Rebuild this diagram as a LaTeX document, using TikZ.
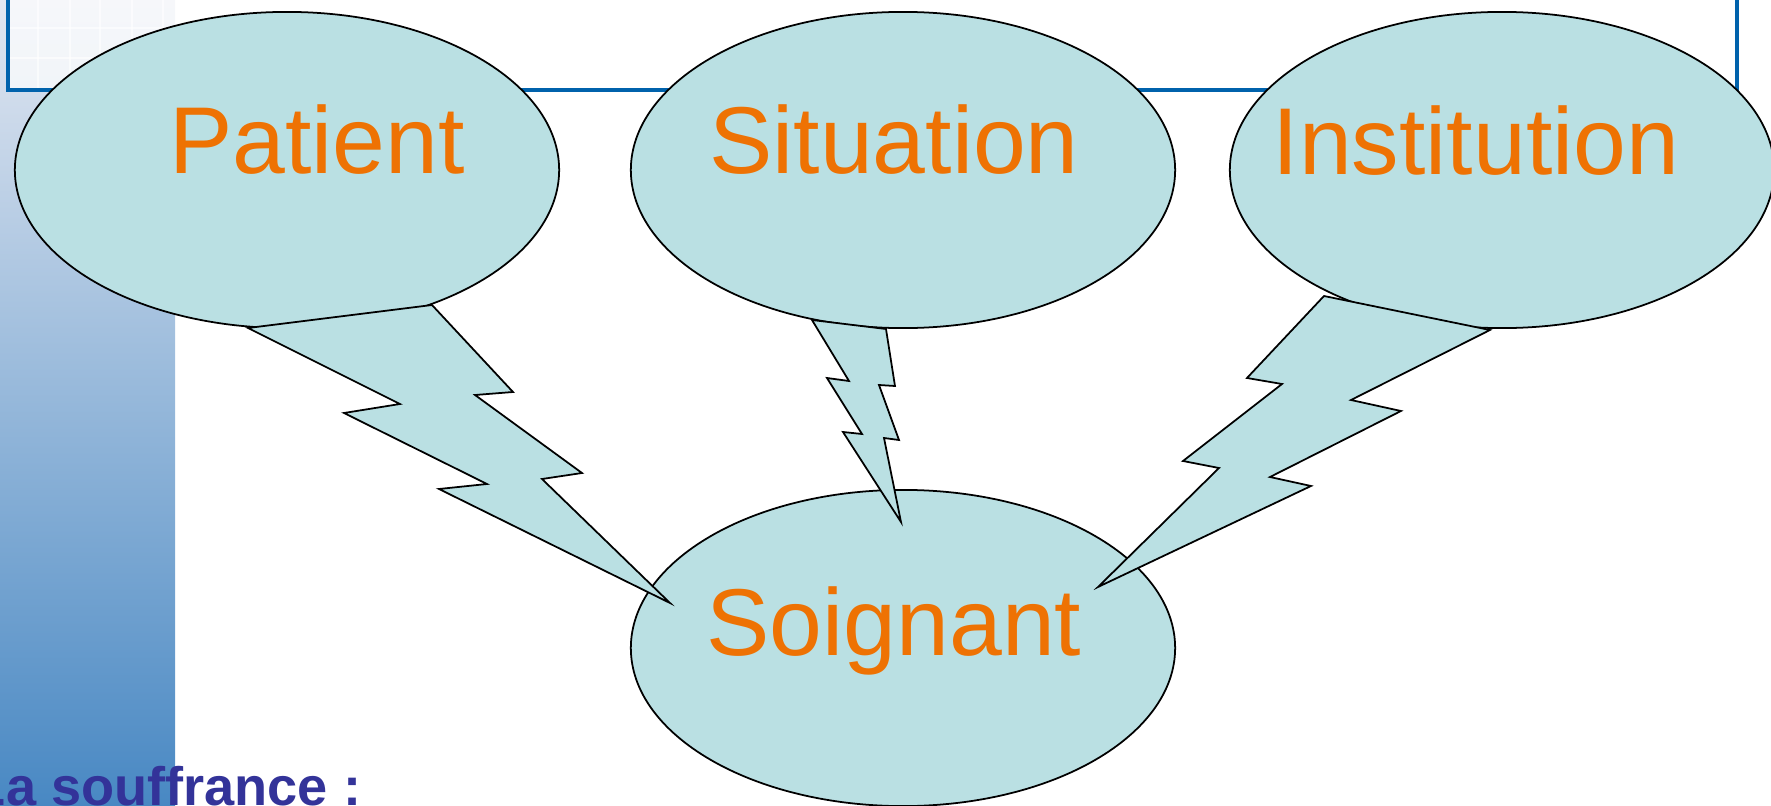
\documentclass[tikz,border=0pt]{standalone}
\usepackage{fontspec}
\setmainfont{Liberation Sans}
\usepackage{color}
\usepackage{tikz}
\usetikzlibrary{shapes.geometric,calc}

\definecolor{bleuclair}{RGB}{186,224,227}
\definecolor{orangetxt}{RGB}{238,114,3}
\definecolor{bleucadre}{RGB}{0,98,172}
\definecolor{bleutitre}{RGB}{51,51,153}
\definecolor{bandehaut}{RGB}{226,231,241}
\definecolor{bandebas}{RGB}{72,136,195}

\begin{document}
\begin{tikzpicture}[x=0.01cm,y=-0.01cm,line width=0.5pt,
    bulle/.style={ellipse,draw,fill=bleuclair,minimum width=5.44cm,minimum height=3.16cm,inner sep=0pt},
    mot/.style={text=orangetxt,font=\fontsize{27}{32}\selectfont,inner sep=0pt,anchor=base},
    eclair/.style={draw,fill=bleuclair,line join=miter}]
    \useasboundingbox (0,0) rectangle (1771,806);
    \clip (0,0) rectangle (1771,806);
    % bande et cadre
    \shade[top color=bandehaut, bottom color=bandebas] (0,0) rectangle (175,806);
    \draw[bleucadre, line width=1pt, fill=white, fill opacity=0.7] (8,-20) rectangle (1737,90);
    \foreach \gx in {38,70,100,132,163}
        \draw[white, line width=0.3pt, opacity=0.6] (\gx,0) -- (\gx,88);
    \foreach \gy in {28,58}
        \draw[white, line width=0.3pt, opacity=0.6] (10,\gy) -- (175,\gy);
    % bulles
    \node[bulle] (patient) at (287,170) {};
    \node[bulle] (situation) at (903,170) {};
    \node[bulle] (institution) at (1502,170) {};
    \node[bulle] (soignant) at (903,648) {};
    % eclairs
    \draw[eclair] (248,328) -- (400,404) -- (344,413) -- (487,484) -- (439,489) -- (670,603)
        -- (542,479) -- (582,473) -- (475,395) -- (513,392) -- (432,305) -- cycle;
    \draw[eclair] (812,320) -- (849,381) -- (827,378) -- (862,434) -- (843,432) -- (901,522)
        -- (884,438) -- (899,440) -- (879,385) -- (895,386) -- (886,329) -- cycle;
    \draw[eclair] (1324,296) -- (1247,378) -- (1282,384) -- (1183,461) -- (1219,468) -- (1098,587)
        -- (1311,486) -- (1270,477) -- (1401,411) -- (1351,400) -- (1490,330) -- cycle;
    % textes
    \node[mot] (patient-t) at ($(patient)+(30,3)$) {Patient};
    \node[mot] (situation-t) at ($(situation)+(-9,3)$) {Situation};
    \node[mot] (institution-t) at ($(institution)+(-26,4)$) {Institution};
    \node[mot] (soignant-t) at ($(soignant)+(-9,7)$) {Soignant};
    \node[text=bleutitre, font=\fontsize{15.4}{18}\selectfont\bfseries, inner sep=0pt, anchor=base east] (titre) at (362,805) {La souffrance :};
\end{tikzpicture}
\end{document}
